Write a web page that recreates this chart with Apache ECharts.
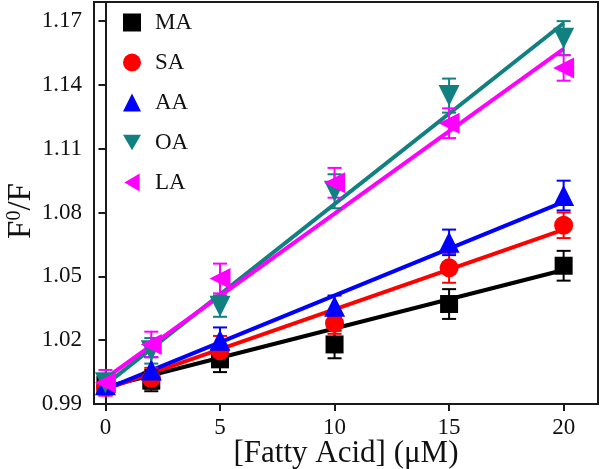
<!DOCTYPE html>
<html><head><meta charset="utf-8">
<script src="https://cdn.jsdelivr.net/npm/echarts@6/dist/echarts.min.js"></script>
<style>html,body{margin:0;padding:0;background:#fff}#c{width:600px;height:469px}</style>
</head><body><div id="c"></div>
<script>
const concentrations = [0, 2, 5, 10, 15, 20];
const seriesNames = ['MA', 'SA', 'AA', 'OA', 'LA'];
const maValues = [0.999, 1.001, 1.011, 1.018, 1.037, 1.055];
const maErrors = [0.004, 0.005, 0.006, 0.0065, 0.007, 0.007];
const saValues = [0.998, 1.002, 1.015, 1.028, 1.054, 1.074];
const saErrors = [0.004, 0.005, 0.007, 0.005, 0.007, 0.006];
const aaValues = [0.999, 1.006, 1.020, 1.036, 1.066, 1.088];
const aaErrors = [0.003, 0.006, 0.006, 0.005, 0.006, 0.007];
const oaValues = [1.000, 1.015, 1.036, 1.090, 1.135, 1.162];
const oaErrors = [0.004, 0.006, 0.005, 0.008, 0.008, 0.008];
const laValues = [1.000, 1.018, 1.049, 1.094, 1.122, 1.148];
const laErrors = [0.006, 0.006, 0.007, 0.007, 0.007, 0.006];
const fitX = [0, 20];
const maFit = [0.998, 1.053];
const saFit = [0.997, 1.072];
const aaFit = [0.997, 1.085];
const oaFit = [0.999, 1.169];
const laFit = [1.002, 1.157];
const xTicks = [0, 5, 10, 15, 20];
const yTicks = [0.99, 1.02, 1.05, 1.08, 1.11, 1.14, 1.17];

const valuesList = [maValues, saValues, aaValues, oaValues, laValues];
const errorsList = [maErrors, saErrors, aaErrors, oaErrors, laErrors];
const fitList = [maFit, saFit, aaFit, oaFit, laFit];
const colors = ['#000000', '#ff0000', '#0000ff', '#118080', '#ff00ff'];
const symbols = ['rect', 'circle', 'triangle', 'triangle', 'triangle'];
const symbolSizes = [18, 19, 21, 21, 21];
const symbolRotates = [0, 0, 0, 180, 90];
const legendIcons = ['rect', 'circle', 'triangle', 'path://M0,0 L20,0 L10,17 Z', 'path://M17,0 L17,20 L0,10 Z'];
const FONT = 'Liberation Serif';

const series = [];
seriesNames.forEach((n, i) => {
  series.push({
    name: n + ' fit', type: 'line', silent: true,
    data: fitX.map((x, k) => [x, fitList[i][k]]),
    showSymbol: false, symbol: 'none',
    lineStyle: { color: colors[i], width: 4 },
    z: 2
  });
});
seriesNames.forEach((n, i) => {
  series.push({
    name: n + ' err', type: 'custom', silent: true,
    data: concentrations.map((x, k) => [x, valuesList[i][k], errorsList[i][k]]),
    renderItem: function (params, api) {
      const x = api.value(0), y = api.value(1), e = api.value(2);
      const hi = api.coord([x, y + e]);
      const lo = api.coord([x, y - e]);
      const cw = 7;
      const st = { stroke: colors[i], lineWidth: 2 };
      return {
        type: 'group',
        children: [
          { type: 'line', shape: { x1: hi[0], y1: hi[1], x2: lo[0], y2: lo[1] }, style: st },
          { type: 'line', shape: { x1: hi[0] - cw, y1: hi[1], x2: hi[0] + cw, y2: hi[1] }, style: st },
          { type: 'line', shape: { x1: lo[0] - cw, y1: lo[1], x2: lo[0] + cw, y2: lo[1] }, style: st }
        ]
      };
    },
    z: 3
  });
});
seriesNames.forEach((n, i) => {
  series.push({
    name: n, type: 'scatter',
    data: concentrations.map((x, k) => [x, valuesList[i][k]]),
    symbol: symbols[i], symbolSize: symbolSizes[i], symbolRotate: symbolRotates[i],
    itemStyle: { color: colors[i], opacity: 1 },
    z: 4
  });
});

const chart = echarts.init(document.getElementById('c'), null, { renderer: 'canvas' });
chart.setOption({
  animation: false,
  backgroundColor: '#ffffff',
  grid: { left: 94, right: 2, top: 2, bottom: 65, outerBoundsMode: 'none', containLabel: false,
    show: true, borderColor: '#1a1a1a', borderWidth: 2, backgroundColor: 'transparent' },
  legend: {
    data: seriesNames.map((n, i) => ({ name: n, icon: legendIcons[i] })),
    orient: 'vertical', left: 118, top: 6,
    itemWidth: 18, itemHeight: 18, itemGap: 17,
    textStyle: { fontFamily: FONT, fontSize: 23, color: '#111', padding: [0, 0, 0, 9] },
    selectedMode: false
  },
  xAxis: {
    type: 'value', min: -0.5, max: 21.5,
    name: '[Fatty Acid] (\u03bcM)', nameLocation: 'middle', nameGap: 34, nameMoveOverlap: false,
    nameTextStyle: { fontFamily: FONT, fontSize: 31, color: '#111' },
    axisLine: { show: true, lineStyle: { color: '#1a1a1a', width: 2 } },
    axisTick: { show: true, inside: false, length: 7, lineStyle: { color: '#1a1a1a', width: 2 }, customValues: xTicks },
    axisLabel: { fontFamily: FONT, fontSize: 23, color: '#111', margin: 12, customValues: xTicks },
    splitLine: { show: false }
  },
  yAxis: {
    type: 'value', min: 0.99, max: 1.179,
    name: '{a|F}{b|0}{a|/F}', nameLocation: 'middle', nameGap: 56, nameMoveOverlap: false,
    nameTextStyle: {
      padding: [0, 16, 0, 0],
      rich: {
        a: { fontFamily: FONT, fontSize: 33, color: '#111' },
        b: { fontFamily: FONT, fontSize: 20, color: '#111', verticalAlign: 'top', padding: [0, 0, 12, 0] }
      }
    },
    axisLine: { show: true, lineStyle: { color: '#1a1a1a', width: 2 } },
    axisTick: { show: true, inside: false, length: 7, lineStyle: { color: '#1a1a1a', width: 2 }, customValues: yTicks },
    axisLabel: { fontFamily: FONT, fontSize: 23, color: '#111', margin: 12, customValues: yTicks,
      formatter: v => v.toFixed(2) },
    splitLine: { show: false }
  },
  series: series
});
</script></body></html>
